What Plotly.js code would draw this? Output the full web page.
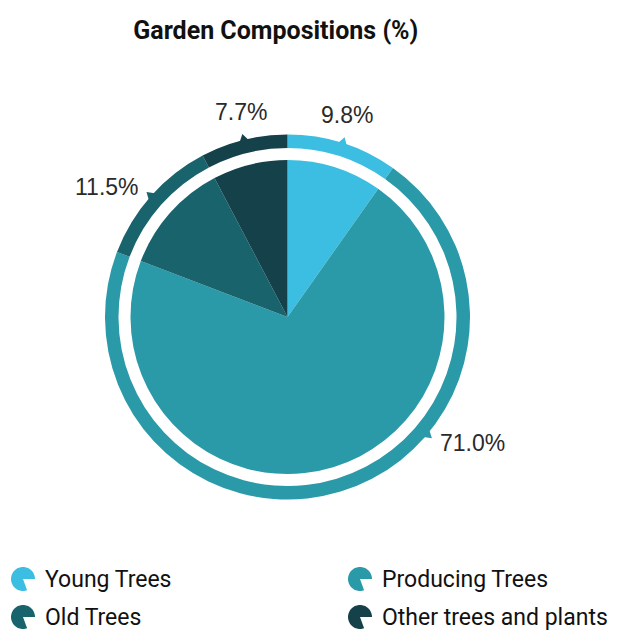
<!DOCTYPE html>
<html>
<head>
<meta charset="utf-8">
<script src="https://cdn.plot.ly/plotly-3.0.1.min.js"></script>
<style>html,body{margin:0;padding:0;background:#fff;}#chart{width:617px;height:630px;}</style>
</head>
<body>
<div id="chart"></div>
<script>
// ---- data ----
const categories = ["Young Trees", "Producing Trees", "Old Trees", "Other trees and plants"];
const values = [9.8, 71.0, 11.5, 7.7];
const colors = ["#3bbee1", "#2a9aa9", "#18636c", "#15414a"];
const chartTitle = "Garden Compositions (%)";

// ---- layout constants (pixels) ----
const W = 617, H = 630;
const CX = 287.5, CY = 317;
const R_PIE = 157, R_RING = 182.5, R_RING_IN = 169;
const R_LABEL = 196;
const labelAngleOverride = {"Producing Trees": 130}; // degrees clockwise from 12 o'clock
const narrow = "Roboto, sans-serif";

function px2paper(x, y) { return [x / W, 1 - y / H]; }
function dom(r) {
  return { x: [(CX - r) / W, (CX + r) / W], y: [(H - CY - r) / H, (H - CY + r) / H] };
}

const pie = {
  type: "pie", labels: categories, values: values, sort: false, direction: "clockwise",
  rotation: 0, marker: { colors: colors, line: { width: 0 } }, textinfo: "none",
  hoverinfo: "label+percent", domain: dom(R_PIE), showlegend: false
};
const ring = {
  type: "pie", labels: categories, values: values, sort: false, direction: "clockwise",
  rotation: 0, hole: R_RING_IN / R_RING, marker: { colors: colors, line: { width: 0 } },
  textinfo: "none", hoverinfo: "label+percent", domain: dom(R_RING), showlegend: false
};

// ---- labels and ticks computed from values ----
const total = values.reduce((a, b) => a + b, 0);
const annotations = [];
const shapes = [];
let cum = 0;
values.forEach((v, i) => {
  const start = cum / total * 360;
  cum += v;
  const end = cum / total * 360;
  let ang = (labelAngleOverride[categories[i]] !== undefined) ? labelAngleOverride[categories[i]] : (start + end) / 2;
  const t = ang * Math.PI / 180;
  const s = Math.sin(t), c = Math.cos(t);
  const lx = CX + R_LABEL * s, ly = CY - R_LABEL * c;
  const p = px2paper(lx, ly);
  annotations.push({
    xref: "paper", yref: "paper", x: p[0], y: p[1], showarrow: false,
    text: v.toFixed(1) + "%",
    xanchor: s > 0.5 ? "left" : (s < -0.5 ? "right" : "center"),
    yanchor: c > 0.7 ? "bottom" : (c < -0.7 ? "top" : "middle"),
    font: { family: "Liberation Sans, Arial, sans-serif", size: 23, color: "#2a2a2a" }
  });
  // small tick triangle on the ring edge
  const b = 4.5 / R_RING; // half-angle base (radians)
  const pts = [
    [CX + (R_RING - 1) * Math.sin(t - b), CY - (R_RING - 1) * Math.cos(t - b)],
    [CX + (R_RING + 6) * s, CY - (R_RING + 6) * c],
    [CX + (R_RING - 1) * Math.sin(t + b), CY - (R_RING - 1) * Math.cos(t + b)]
  ].map(q => px2paper(q[0], q[1]));
  shapes.push({
    type: "path", xref: "paper", yref: "paper", fillcolor: colors[i], line: { width: 0 },
    path: "M" + pts.map(q => q[0] + "," + q[1]).join(" L") + " Z"
  });
});

// ---- custom legend with pie-shaped icons ----
const legendPos = [[23, 579], [360, 579], [23, 617], [360, 617]];
categories.forEach((name, i) => {
  const [x, y] = legendPos[i];
  const r = 12;
  const pts = [[x, y]];
  const a0 = 160, a1 = 90 + 360;
  for (let a = a0; a <= a1; a += 5) {
    const t = a * Math.PI / 180;
    pts.push([x + r * Math.sin(t), y - r * Math.cos(t)]);
  }
  const pp = pts.map(q => px2paper(q[0], q[1]));
  shapes.push({
    type: "path", xref: "paper", yref: "paper", fillcolor: colors[i], line: { width: 0 },
    path: "M" + pp.map(q => q[0] + "," + q[1]).join(" L") + " Z"
  });
  const tp = px2paper(x + 20, y);
  annotations.push({
    xref: "paper", yref: "paper", x: tp[0], y: tp[1], showarrow: false,
    xanchor: "left", yanchor: "middle", text: name,
    font: { family: narrow, size: 23, color: "#111" }
  });
});

const layout = {
  width: W, height: H, margin: { l: 0, r: 0, t: 0, b: 0 },
  paper_bgcolor: "#fff", plot_bgcolor: "#fff",
  title: { text: "<b>" + chartTitle + "</b>", x: 0.447, xanchor: "center", y: 1 - 30 / H, yanchor: "middle",
           font: { family: narrow, size: 25, color: "#111" } },
  showlegend: false, annotations: annotations, shapes: shapes
};

Plotly.newPlot("chart", [pie, ring], layout, { displayModeBar: false, staticPlot: true });
</script>
</body>
</html>
